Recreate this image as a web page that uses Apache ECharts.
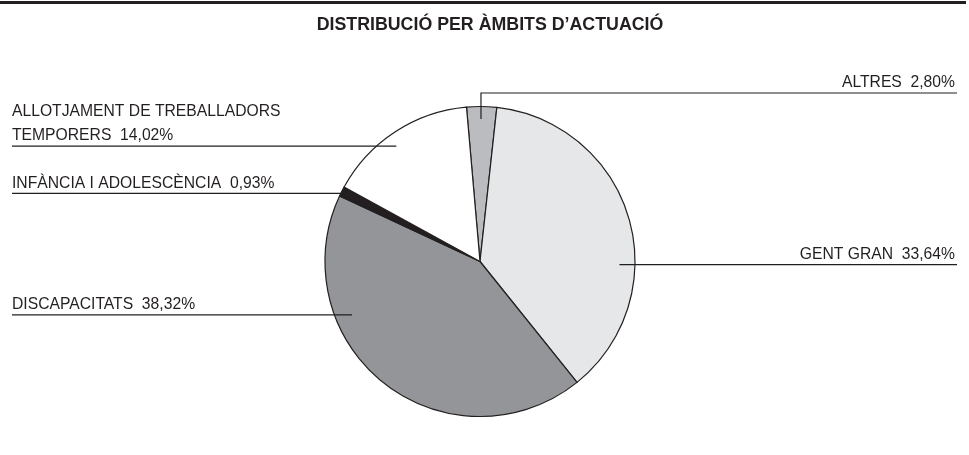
<!DOCTYPE html>
<html>
<head>
<meta charset="utf-8">
<script src="https://cdn.jsdelivr.net/npm/echarts@6/dist/echarts.min.js"></script>
<style>
html,body{margin:0;padding:0;background:#fff;}
#c{width:969px;height:455px;}
</style>
</head>
<body>
<div id="c"></div>
<script>
const title = 'DISTRIBUCIÓ PER ÀMBITS D’ACTUACIÓ';
const categories = ['ALTRES', 'GENT GRAN', 'DISCAPACITATS', 'INFÀNCIA I ADOLESCÈNCIA', 'ALLOTJAMENT DE TREBALLADORS\nTEMPORERS'];
const values = [2.80, 33.64, 38.32, 0.93, 14.02];
const colors = ['#bbbcbf', '#e6e7e8', '#939598', '#231f20', '#ffffff'];

// label anchor placement (fraction of slice angle, fraction of radius) and side
const anchorFrac = [0.48, 0.63, 0.69, 0.32, 0.45];
const anchorRad = [0.92, 0.90, 0.895, 0.995, 0.92];
const side = ['right', 'right', 'left', 'left', 'left'];

const CX = 480, CY = 261.5, R = 155, START = 95;
const LEFT_EDGE = 12, RIGHT_EDGE = 957;
const LH = 24.5, TEXT_ABOVE = 10;

const total = values.reduce((a, b) => a + b, 0);
function anchorOf(i) {
  let acc = 0;
  for (let k = 0; k < i; k++) acc += values[k];
  const startDeg = -(START - 90); // clockwise from top
  const a0 = startDeg + acc / total * 360;
  const span = values[i] / total * 360;
  const ang = (a0 + span * anchorFrac[i]) * Math.PI / 180;
  const r = R * anchorRad[i];
  return [CX + r * Math.sin(ang), CY - r * Math.cos(ang)];
}

const pieBase = {
  type: 'pie',
  center: [CX, CY],
  radius: R,
  startAngle: START,
  clockwise: true,
  avoidLabelOverlap: false,
  emphasis: {disabled: true},
  silent: true
};

const chart = echarts.init(document.getElementById('c'), null, {renderer: 'canvas'});
chart.setOption({
  backgroundColor: '#ffffff',
  animation: false,
  title: {
    text: title,
    left: 485,
    textAlign: 'center',
    top: 11,
    textStyle: {fontFamily: 'Liberation Sans', fontWeight: 'bold', fontSize: 17.8, color: '#231f20'}
  },
  graphic: [{
    type: 'rect', shape: {x: 0, y: 1, width: 966, height: 3},
    style: {fill: '#231f20'}
  }],
  series: [
    Object.assign({}, pieBase, {
      z: 2,
      data: categories.map((c, i) => ({name: c, value: values[i], itemStyle: {color: colors[i]}})),
      itemStyle: {borderColor: '#231f20', borderWidth: 1.2},
      label: {show: false},
      labelLine: {show: false}
    }),
    Object.assign({}, pieBase, {
      z: 5,
      data: categories.map((c, i) => ({name: c, value: values[i]})),
      itemStyle: {color: 'rgba(0,0,0,0)', borderWidth: 0},
      label: {
        show: true,
        position: 'outside',
        fontFamily: 'Liberation Sans',
        fontSize: 15.7,
        color: '#231f20',
        lineHeight: LH,
        formatter: p => p.name + '  ' + p.value.toFixed(2).replace('.', ',') + '%'
      },
      labelLine: {show: true, showAbove: true, smooth: false, length: 10, length2: 10, lineStyle: {color: '#231f20', width: 1.2}},
      labelLayout: function (params) {
        const i = params.dataIndex;
        const a = anchorOf(i);
        const off = LH / 2 - TEXT_ABOVE;
        if (i === 0) {
          const ly = CY - R - 13.5;
          return {
            x: RIGHT_EDGE - 2, y: ly + off, align: 'right', verticalAlign: 'bottom',
            labelLinePoints: [[a[0], a[1]], [a[0], ly], [RIGHT_EDGE, ly]]
          };
        }
        if (side[i] === 'right') {
          return {
            x: RIGHT_EDGE - 2, y: a[1] + off, align: 'right', verticalAlign: 'bottom',
            labelLinePoints: [[a[0], a[1]], [(a[0] + RIGHT_EDGE) / 2, a[1]], [RIGHT_EDGE, a[1]]]
          };
        }
        return {
          x: LEFT_EDGE, y: a[1] + off, align: 'left', verticalAlign: 'bottom',
          labelLinePoints: [[a[0], a[1]], [(a[0] + LEFT_EDGE) / 2, a[1]], [LEFT_EDGE, a[1]]]
        };
      }
    })
  ]
});
</script>
</body>
</html>
